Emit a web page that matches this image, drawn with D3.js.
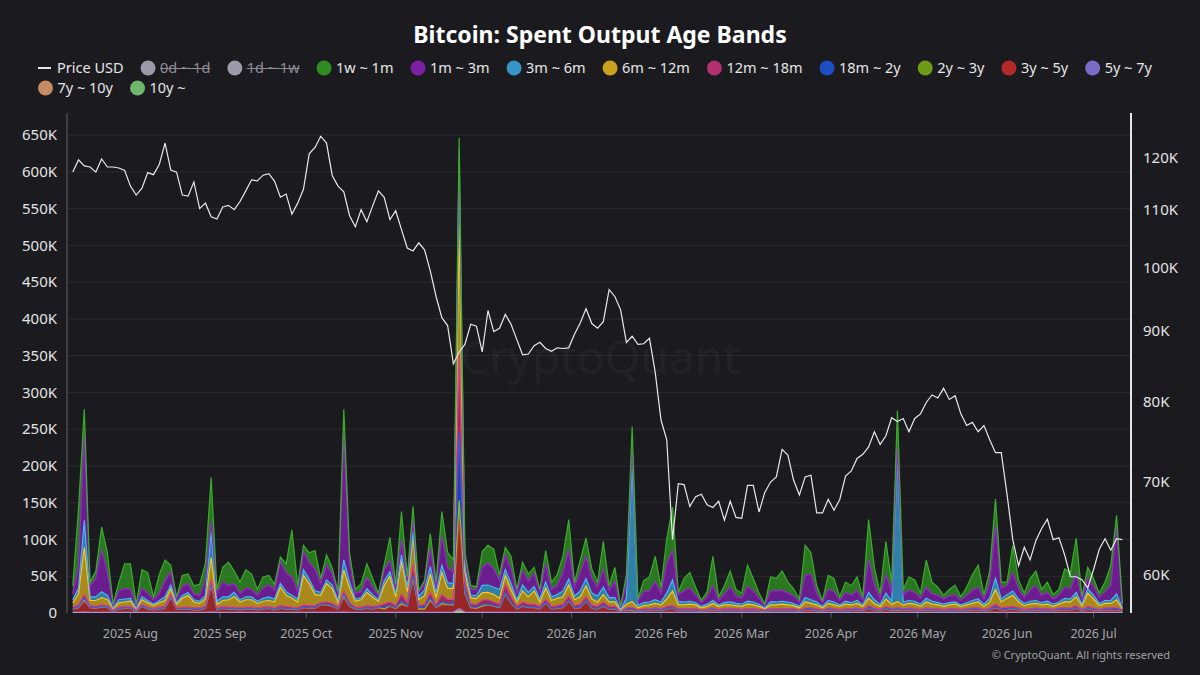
<!DOCTYPE html>
<meta charset="utf-8">
<script src="https://d3js.org/d3.v7.min.js"></script>
<style>
  body { margin: 0; background: #1b1b1f; }
  svg { display: block; font-family: "Noto Sans", "DejaVu Sans", sans-serif; }
</style>
<div id="chart"></div>
<script>

// sampled every second day
var dates = [
  "2025-07-12","2025-07-14","2025-07-16","2025-07-18","2025-07-20","2025-07-22","2025-07-24","2025-07-26","2025-07-28","2025-07-30",
  "2025-08-01","2025-08-03","2025-08-05","2025-08-07","2025-08-09","2025-08-11","2025-08-13","2025-08-15","2025-08-17","2025-08-19",
  "2025-08-21","2025-08-23","2025-08-25","2025-08-27","2025-08-29","2025-08-31","2025-09-02","2025-09-04","2025-09-06","2025-09-08",
  "2025-09-10","2025-09-12","2025-09-14","2025-09-16","2025-09-18","2025-09-20","2025-09-22","2025-09-24","2025-09-26","2025-09-28",
  "2025-09-30","2025-10-02","2025-10-04","2025-10-06","2025-10-08","2025-10-10","2025-10-12","2025-10-14","2025-10-16","2025-10-18",
  "2025-10-20","2025-10-22","2025-10-24","2025-10-26","2025-10-28","2025-10-30","2025-11-01","2025-11-03","2025-11-05","2025-11-07",
  "2025-11-09","2025-11-11","2025-11-13","2025-11-15","2025-11-17","2025-11-19","2025-11-21","2025-11-23","2025-11-25","2025-11-27",
  "2025-11-29","2025-12-01","2025-12-03","2025-12-05","2025-12-07","2025-12-09","2025-12-11","2025-12-13","2025-12-15","2025-12-17",
  "2025-12-19","2025-12-21","2025-12-23","2025-12-25","2025-12-27","2025-12-29","2025-12-31","2026-01-02","2026-01-04","2026-01-06",
  "2026-01-08","2026-01-10","2026-01-12","2026-01-14","2026-01-16","2026-01-18","2026-01-20","2026-01-22","2026-01-24","2026-01-26",
  "2026-01-28","2026-01-30","2026-02-01","2026-02-03","2026-02-05","2026-02-07","2026-02-09","2026-02-11","2026-02-13","2026-02-15",
  "2026-02-17","2026-02-19","2026-02-21","2026-02-23","2026-02-25","2026-02-27","2026-03-01","2026-03-03","2026-03-05","2026-03-07",
  "2026-03-09","2026-03-11","2026-03-13","2026-03-15","2026-03-17","2026-03-19","2026-03-21","2026-03-23","2026-03-25","2026-03-27",
  "2026-03-29","2026-03-31","2026-04-02","2026-04-04","2026-04-06","2026-04-08","2026-04-10","2026-04-12","2026-04-14","2026-04-16",
  "2026-04-18","2026-04-20","2026-04-22","2026-04-24","2026-04-26","2026-04-28","2026-04-30","2026-05-02","2026-05-04","2026-05-06",
  "2026-05-08","2026-05-10","2026-05-12","2026-05-14","2026-05-16","2026-05-18","2026-05-20","2026-05-22","2026-05-24","2026-05-26",
  "2026-05-28","2026-05-30","2026-06-01","2026-06-03","2026-06-05","2026-06-07","2026-06-09","2026-06-11","2026-06-13","2026-06-15",
  "2026-06-17","2026-06-19","2026-06-21","2026-06-23","2026-06-25","2026-06-27","2026-06-29","2026-07-01","2026-07-03","2026-07-05",
  "2026-07-07","2026-07-09","2026-07-11"
];

// BTC price, thousands of USD
var priceUsd = [
  117.2,119.6,118.4,118.2,117.2,119.8,118.2,118.2,118.0,117.5,
  114.5,112.8,114.1,117.1,116.7,118.7,123.0,117.6,117.2,112.8,
  112.6,115.3,110.3,111.3,108.8,108.4,110.6,110.9,110.1,111.6,
  113.6,115.7,115.5,116.6,116.9,115.4,112.4,113.0,109.3,111.3,
  113.9,120.8,122.1,124.4,123.0,116.5,114.5,113.4,109.0,107.0,
  110.1,107.9,110.8,113.6,112.4,108.3,109.9,106.5,103.3,102.8,
  104.2,103.0,99.4,95.3,92.0,90.8,85.2,86.9,88.0,91.0,
  90.7,86.9,93.1,89.9,90.4,92.5,91.0,88.7,86.5,86.6,
  87.8,88.3,87.4,87.0,87.5,87.4,87.5,89.5,91.2,93.4,
  91.1,90.4,91.4,96.4,95.3,93.2,88.3,89.2,88.0,88.1,
  88.9,84.0,77.6,75.1,63.6,69.8,69.7,67.2,68.3,68.6,
  67.4,67.1,67.8,65.7,67.8,66.0,65.9,69.6,69.6,66.6,
  68.8,70.0,70.6,73.9,73.2,70.2,68.5,70.6,70.8,66.5,
  66.5,68.0,66.8,68.0,70.7,71.3,72.8,73.3,74.2,76.1,
  74.5,75.6,77.9,77.4,77.8,76.1,77.8,78.4,79.9,80.9,
  80.5,81.8,80.3,80.8,78.4,76.9,77.3,76.1,76.9,75.1,
  73.5,73.5,68.6,63.6,60.9,62.8,61.5,63.5,64.8,65.8,
  63.6,63.8,62.0,59.8,59.8,59.5,58.7,60.5,62.6,63.7,
  62.5,63.7,63.6
];

// spent outputs per age band, thousands of BTC
var band1w1m = [
  11,78,36,6,10,31,28,2,12,34, 35,2,25,28,4,25,28,9,3,15, 13,11,15,23,59,6,20,32,17,16,
  25,21,8,15,13,8,6,13,64,8, 8,14,25,7,14,8,4,36,14,5, 11,19,12,4,7,32,5,39,5,19,
  2,5,20,7,33,21,18,16,9,5, 4,21,24,27,8,10,17,6,11,10, 8,5,18,10,15,22,41,7,17,25,
  13,7,37,6,19,2,12,28,3,15, 19,34,8,34,59,3,17,21,11,3, 7,40,5,11,22,9,7,29,17,7,
  2,19,17,26,15,10,4,41,29,10, 3,19,18,5,14,13,18,5,54,24, 7,45,14,50,7,18,17,7,37,16,
  11,5,9,13,5,11,21,30,6,17, 36,8,5,37,12,6,16,20,8,14, 6,8,25,22,49,4,14,11,6,13,
  28,17,2
];
var band1m3m = [
  8,30,115,14,25,57,30,3,12,14, 12,3,12,10,6,10,22,18,5,12, 12,8,8,20,15,10,20,15,12,8,
  12,10,8,14,16,12,30,25,25,10, 25,22,30,12,20,15,8,169,25,8, 8,15,10,5,15,15,8,20,10,15,
  6,8,25,8,40,20,15,12,12,8, 8,25,30,25,12,20,20,8,20,15, 18,8,25,10,12,25,40,12,25,30,
  20,12,25,10,22,2,20,25,6,15, 15,25,12,40,40,10,15,18,10,5, 10,20,6,12,20,10,8,20,15,8,
  3,15,15,15,12,10,6,30,35,12, 5,15,14,6,12,10,14,6,45,20, 8,25,12,13,10,14,12,8,15,10,
  10,7,9,10,6,10,14,16,7,20, 72,15,12,25,14,8,15,20,10,12, 7,9,15,14,25,6,15,12,8,12,
  20,90,4
];
var band3m6m = [
  4,8,37,5,5,8,6,1,4,4, 4,1,4,3,2,3,5,5,2,4, 4,3,3,5,35,4,5,4,6,3,
  4,4,3,4,5,4,5,5,4,4, 8,6,5,4,5,5,3,14,8,3, 3,5,4,2,6,6,4,8,5,5,
  4,8,10,6,10,8,6,92,5,4, 4,10,10,10,12,8,8,3,8,6, 6,4,8,5,5,8,8,5,8,10,
  8,8,10,6,6,1,8,185,3,4, 4,5,4,8,15,4,4,4,3,2, 3,4,2,3,4,3,3,4,4,3,
  1,4,4,4,4,3,2,6,5,4, 2,4,4,2,4,3,4,2,8,5, 3,8,4,197,4,4,4,3,5,4,
  3,3,3,3,2,3,4,4,3,5, 15,4,5,6,4,3,4,4,3,4, 3,3,5,4,6,2,6,5,3,4,
  4,8,1
];
var band6m12m = [
  6,15,64,7,8,10,8,2,6,6, 7,2,6,6,4,6,8,8,5,12, 16,8,6,10,30,5,8,10,14,8,
  10,10,6,8,8,8,25,15,12,8, 40,30,15,10,25,20,6,28,20,8, 10,18,12,6,25,35,12,45,15,40,
  8,12,25,10,30,15,15,174,15,8, 8,10,10,10,8,12,10,6,15,10, 18,6,15,8,10,10,15,8,10,15,
  8,6,10,6,6,1,5,8,3,4, 5,6,5,10,20,5,5,6,5,3, 4,6,4,5,5,4,4,6,5,4,
  2,5,5,6,5,4,3,8,6,5, 3,6,5,4,6,5,6,4,10,6, 4,10,6,8,5,6,6,4,8,6,
  5,4,5,6,4,5,6,8,4,8, 20,8,12,15,8,5,6,6,5,6, 4,5,8,8,12,5,18,12,5,6,
  6,10,2
];
var band12m18m = [
  2,3,5,2,2,2,2,1,2,2, 2,1,2,2,1,2,2,3,1,2, 2,2,2,2,5,2,2,2,2,2,
  2,2,2,2,2,2,3,3,2,2, 3,3,3,2,3,3,2,5,4,2, 2,3,3,2,4,5,3,10,4,15,
  3,3,8,3,10,6,6,107,12,4, 4,6,6,5,4,12,8,3,5,4, 4,3,5,3,3,4,6,3,4,5,
  4,3,5,3,3,0,2,3,1,2, 2,2,2,3,3,2,2,2,2,1, 1,2,1,2,2,2,1,2,2,1,
  1,2,2,2,2,2,1,2,2,2, 1,2,2,1,2,2,2,1,3,2, 1,3,2,2,2,2,2,1,2,2,
  2,1,2,2,1,2,2,2,1,2, 4,2,3,3,2,1,2,2,2,2, 1,2,2,2,3,1,3,2,1,2,
  2,3,1
];
var band18m2y = [
  .5,.5,2,.5,.5,.5,.5,.5,.5,.5, .5,.5,.5,.5,.5,.5,.5,.5,.5,.5, .5,.5,.5,.5,2,.5,.5,.5,.5,.5,
  .5,.5,.5,.5,.5,.5,.5,.5,.5,.5, .5,.5,.5,.5,.5,.5,.5,2,.5,.5, .5,.5,.5,.5,3,.5,.5,3,.5,3,
  2,3,2,.5,2,1,1,92,2,1, 1,2,.5,.5,.5,.5,.5,.5,.5,.5, .5,.5,.5,.5,.5,.5,.5,.5,.5,.5,
  .5,.5,.5,.5,.5,.5,.5,1,.5,.5, .5,.5,.5,.5,.5,.5,.5,.5,.5,.5, .5,.5,.5,.5,.5,.5,.5,.5,.5,.5,
  .5,.5,.5,.5,.5,.5,.5,.5,.5,.5, .5,.5,.5,.5,.5,.5,.5,.5,.5,.5, .5,.5,.5,1,.5,.5,.5,.5,.5,.5,
  .5,.5,.5,.5,.5,.5,.5,.5,.5,.5, .5,.5,.5,.5,.5,.5,.5,.5,.5,.5, .5,.5,.5,.5,.5,.5,.5,.5,.5,.5,
  .5,.5,.5
];
var band2y3y = [
  .5,.5,2,.5,.5,.5,.5,.5,.5,.5, .5,.5,.5,.5,.5,.5,.5,.5,.5,.5, .5,.5,.5,.5,2,.5,.5,.5,.5,.5,
  .5,.5,.5,.5,.5,.5,.5,.5,.5,.5, .5,.5,.5,.5,.5,.5,.5,2,.5,.5, .5,.5,.5,.5,.5,.5,.5,2,.5,2,
  .5,.5,2,.5,2,.5,.5,27,1,.5, .5,.5,.5,.5,.5,.5,.5,.5,.5,.5, .5,.5,.5,.5,.5,.5,.5,.5,.5,.5,
  .5,.5,.5,.5,.5,.5,.5,.5,.5,.5, .5,.5,.5,.5,.5,.5,.5,.5,.5,.5, .5,.5,.5,.5,.5,.5,.5,.5,.5,.5,
  .5,.5,.5,.5,.5,.5,.5,.5,.5,.5, .5,.5,.5,.5,.5,.5,.5,.5,.5,.5, .5,.5,.5,.5,.5,.5,.5,.5,.5,.5,
  .5,.5,.5,.5,.5,.5,.5,.5,.5,.5, .5,.5,.5,.5,.5,.5,.5,.5,.5,.5, .5,.5,.5,.5,.5,.5,.5,.5,.5,.5,
  .5,.5,.5
];
var band3y5y = [
  4,6,15,6,5,7,6,1,4,5, 5,1,8,4,3,4,5,20,4,4, 4,3,3,5,35,3,5,4,4,3,
  4,4,3,4,5,3,5,4,4,3, 6,5,5,10,10,8,4,20,8,4, 4,5,4,6,4,8,5,10,8,45,
  4,4,15,6,10,10,10,120,25,6, 5,8,10,8,6,25,12,4,8,6, 6,4,12,4,5,6,15,5,6,15,
  5,4,8,4,4,1,3,2,1,2, 2,3,2,4,5,2,2,2,2,1, 2,3,2,2,2,2,2,2,2,2,
  1,2,2,2,2,2,1,3,3,2, 1,3,2,2,2,2,3,2,5,3, 2,4,2,3,2,3,2,2,3,2,
  2,2,2,2,2,2,3,3,2,3, 6,3,3,4,3,2,2,3,2,2, 2,3,3,3,5,2,4,3,2,3,
  3,3,1
];
var band5y7y = [
  .3,.3,.5,.3,.3,.3,.3,.3,.3,.3, .3,.3,.3,.3,.3,.3,.3,.3,.3,.3, .3,.3,.3,.3,.5,.3,.3,.3,.3,.3,
  .3,.3,.3,.3,.3,.3,.3,.3,.3,.3, .3,.3,.3,.3,.3,.3,.3,.5,.3,.3, .3,.3,.3,.3,.3,.3,.3,.3,.3,.3,
  .3,.3,.3,.3,.3,.3,.3,3,.3,.3, .3,.3,.3,.3,.3,.3,.3,.3,.3,.3, .3,.3,.3,.3,.3,.3,.3,.3,.3,.3,
  .3,.3,.3,.3,.3,.3,.3,.3,.3,.3, .3,.3,.3,.3,.3,.3,.3,.3,.3,.3, .3,.3,.3,.3,.3,.3,.3,.3,.3,.3,
  .3,.3,.3,.3,.3,.3,.3,.3,.3,.3, .3,.3,.3,.3,.3,.3,.3,.3,.3,.3, .3,.3,.3,.3,.3,.3,.3,.3,.3,.3,
  .3,.3,.3,.3,.3,.3,.3,.3,.3,.3, .3,.3,.3,.3,.3,.3,.3,.3,.3,.3, .3,.3,.3,.3,.3,.3,.3,.3,.3,.3,
  .3,.3,.3
];
var band7y10y = [
  .4,.4,.4,.4,.4,.4,.4,.4,.4,.4, .4,.4,.4,.4,.4,.4,.4,.4,.4,.4, .4,.4,.4,.4,.4,.4,.4,.4,.4,.4,
  .4,.4,.4,.4,.4,.4,.4,.4,.4,.4, .4,.4,.4,.4,.4,.4,.4,.4,.4,.4, .4,.4,.4,.4,.4,.4,.4,.4,.4,.4,
  .4,.4,.4,.4,.4,.4,.4,2,.4,.4, .4,.4,.4,.4,.4,.4,.4,.4,.4,.4, .4,.4,.4,.4,.4,.4,.4,.4,.4,.4,
  .4,.4,.4,.4,.4,.4,.4,.4,.4,.4, .4,.4,.4,.4,.4,.4,.4,.4,.4,.4, .4,.4,.4,.4,.4,.4,.4,.4,.4,.4,
  .4,.4,.4,.4,.4,.4,.4,.4,.4,.4, .4,.4,.4,.4,.4,.4,.4,.4,.4,.4, .4,.4,.4,.4,.4,.4,.4,.4,.4,.4,
  .4,.4,.4,.4,.4,.4,.4,.4,.4,.4, .4,.4,.4,.4,.4,.4,.4,.4,.4,.4, .4,.4,.4,.4,.4,.4,.4,.4,.4,.4,
  .4,.4,.4
];
var band10y = [
  .3,.3,.3,.3,.3,.3,.3,.3,.3,.3, .3,.3,.3,.3,.3,.3,.3,.3,.3,.3, .3,.3,.3,.3,.3,.3,.3,.3,.3,.3,
  .3,.3,.3,.3,.3,.3,.3,.3,.3,.3, .3,.3,.3,.3,.3,.3,.3,.3,.3,.3, .3,.3,.3,.3,.3,.3,.3,.3,.3,.3,
  .3,.3,.3,.3,.3,.3,.3,1,.3,.3, .3,.3,.3,.3,.3,.3,.3,.3,.3,.3, .3,.3,.3,.3,.3,.3,.3,.3,.3,.3,
  .3,.3,.3,.3,.3,.3,.3,.3,.3,.3, .3,.3,.3,.3,.3,.3,.3,.3,.3,.3, .3,.3,.3,.3,.3,.3,.3,.3,.3,.3,
  .3,.3,.3,.3,.3,.3,.3,.3,.3,.3, .3,.3,.3,.3,.3,.3,.3,.3,.3,.3, .3,.3,.3,.3,.3,.3,.3,.3,.3,.3,
  .3,.3,.3,.3,.3,.3,.3,.3,.3,.3, .3,.3,.3,.3,.3,.3,.3,.3,.3,.3, .3,.3,.3,.3,.3,.3,.3,.3,.3,.3,
  .3,.3,.3
];

var legendNames = ["Price USD","0d ~ 1d","1d ~ 1w","1w ~ 1m","1m ~ 3m","3m ~ 6m","6m ~ 12m",
  "12m ~ 18m","18m ~ 2y","2y ~ 3y","3y ~ 5y","5y ~ 7y","7y ~ 10y","10y ~"];
var legendColors = ["#e6e6e6","#9c9aa8","#9c9aa8","#2f8c22","#7d1fa5","#3596c6","#c9a21c",
  "#b22f70","#1f4ec2","#6e9c17","#b6292a","#7b6cc9","#c58b62","#72b66d"];
var hiddenBands = ["0d ~ 1d","1d ~ 1w"];

var leftTicks = [0,50,100,150,200,250,300,350,400,450,500,550,600,650];
var rightTicks = [60,70,80,90,100,110,120];
var monthTicks = ["2025-08-01","2025-09-01","2025-10-01","2025-11-01","2025-12-01","2026-01-01",
  "2026-02-01","2026-03-01","2026-04-01","2026-05-01","2026-06-01","2026-07-01"];

// bottom of the stack first
var bands = [
  {name: "10y ~",     values: band10y},
  {name: "7y ~ 10y",  values: band7y10y},
  {name: "5y ~ 7y",   values: band5y7y},
  {name: "3y ~ 5y",   values: band3y5y},
  {name: "2y ~ 3y",   values: band2y3y},
  {name: "18m ~ 2y",  values: band18m2y},
  {name: "12m ~ 18m", values: band12m18m},
  {name: "6m ~ 12m",  values: band6m12m},
  {name: "3m ~ 6m",   values: band3m6m},
  {name: "1m ~ 3m",   values: band1m3m},
  {name: "1w ~ 1m",   values: band1w1m}
];

var W = 1200, H = 675;
var plot = {left: 67, right: 1131, top: 113, bottom: 613};

var svg = d3.select("#chart").append("svg")
    .attr("width", W).attr("height", H);

svg.append("rect").attr("width", W).attr("height", H).attr("fill", "#1b1b1f");

var parseDay = d3.timeParse("%Y-%m-%d");
var colorOf = d3.scaleOrdinal().domain(legendNames).range(legendColors);

var rows = dates.map(function(d, i) {
  var r = {date: parseDay(d), price: priceUsd[i]};
  bands.forEach(function(b) { r[b.name] = b.values[i]; });
  return r;
});

var x = d3.scaleTime()
    .domain([parseDay("2025-07-10"), parseDay("2026-07-14")])
    .range([plot.left, plot.right]);
var y = d3.scaleLinear().domain([0, 680]).range([plot.bottom, plot.top]);
var yPrice = d3.scaleLog().domain([56.3, 129.3]).range([plot.bottom, plot.top]);

// gridlines
svg.append("g").selectAll("line")
  .data(leftTicks.slice(1))
  .enter().append("line")
    .attr("x1", plot.left).attr("x2", plot.right)
    .attr("y1", function(d) { return y(d); })
    .attr("y2", function(d) { return y(d); })
    .attr("stroke", "#2b2b31").attr("stroke-width", 1);

// watermark
svg.append("text")
    .attr("x", 600).attr("y", 374)
    .attr("text-anchor", "middle")
    .attr("font-size", 46)
    .attr("fill", "#ffffff").attr("fill-opacity", 0.05)
    .text("CryptoQuant");

svg.append("clipPath").attr("id", "plotClip")
  .append("rect")
    .attr("x", plot.left).attr("y", plot.top - 2)
    .attr("width", plot.right - plot.left).attr("height", plot.bottom - plot.top + 2);

var stacked = d3.stack().keys(bands.map(function(b) { return b.name; }))(rows);

var area = d3.area()
    .x(function(d) { return x(d.data.date); })
    .y0(function(d) { return y(d[0]); })
    .y1(function(d) { return y(d[1]); });
var topLine = d3.line()
    .x(function(d) { return x(d.data.date); })
    .y(function(d) { return y(d[1]); });

var layers = svg.append("g").attr("clip-path", "url(#plotClip)");

layers.selectAll(".band")
  .data(stacked)
  .enter().append("path")
    .attr("class", "band")
    .attr("d", area)
    .attr("fill", function(d) { return colorOf(d.key); })
    .attr("fill-opacity", 0.82);

layers.selectAll(".bandEdge")
  .data(stacked)
  .enter().append("path")
    .attr("class", "bandEdge")
    .attr("d", topLine)
    .attr("fill", "none")
    .attr("stroke", function(d) { return d3.color(colorOf(d.key)).brighter(0.6); })
    .attr("stroke-width", 1.2);

// price line
layers.append("path")
    .datum(rows)
    .attr("fill", "none")
    .attr("stroke", "#e8e8e8")
    .attr("stroke-width", 1.2)
    .attr("d", d3.line()
        .x(function(d) { return x(d.date); })
        .y(function(d) { return yPrice(d.price); }));

// left axis
svg.append("line")
    .attr("x1", plot.left).attr("x2", plot.left)
    .attr("y1", plot.top).attr("y2", plot.bottom)
    .attr("stroke", "#4a4a52").attr("stroke-width", 1.5);
svg.append("g").selectAll("text")
  .data(leftTicks)
  .enter().append("text")
    .attr("x", 57)
    .attr("y", function(d) { return y(d); })
    .attr("dy", "0.35em")
    .attr("text-anchor", "end")
    .attr("font-size", 15)
    .attr("fill", "#e2e2e2")
    .text(function(d) { return d === 0 ? "0" : d + "K"; });

// right axis
svg.append("line")
    .attr("x1", plot.right).attr("x2", plot.right)
    .attr("y1", plot.top).attr("y2", plot.bottom)
    .attr("stroke", "#e6e6e6").attr("stroke-width", 2);
svg.append("g").selectAll("text")
  .data(rightTicks)
  .enter().append("text")
    .attr("x", 1143)
    .attr("y", function(d) { return yPrice(d); })
    .attr("dy", "0.35em")
    .attr("font-size", 15)
    .attr("fill", "#e2e2e2")
    .text(function(d) { return d + "K"; });

// x axis
var fmtMonth = d3.timeFormat("%Y %b");
var xAxis = svg.append("g");
xAxis.selectAll("line")
  .data(monthTicks)
  .enter().append("line")
    .attr("x1", function(d) { return x(parseDay(d)); })
    .attr("x2", function(d) { return x(parseDay(d)); })
    .attr("y1", plot.bottom).attr("y2", plot.bottom + 5)
    .attr("stroke", "#55555c");
xAxis.selectAll("text")
  .data(monthTicks)
  .enter().append("text")
    .attr("x", function(d) { return x(parseDay(d)); })
    .attr("y", 638)
    .attr("text-anchor", "middle")
    .attr("font-size", 12.5)
    .attr("fill", "#a6a6aa")
    .text(function(d) { return fmtMonth(parseDay(d)); });

// title
svg.append("text")
    .attr("x", 600).attr("y", 43)
    .attr("text-anchor", "middle")
    .attr("font-size", 23)
    .attr("font-weight", "bold")
    .attr("fill", "#ffffff")
    .text("Bitcoin: Spent Output Age Bands");

// legend
var legend = svg.append("g");
var lx = 38, ly = 68;
legendNames.forEach(function(name, i) {
  if (name === "7y ~ 10y") { lx = 38; ly = 88; }
  var off = hiddenBands.indexOf(name) >= 0;
  var item = legend.append("g");
  var tx;
  if (i === 0) {
    item.append("line")
        .attr("x1", lx).attr("x2", lx + 13)
        .attr("y1", ly).attr("y2", ly)
        .attr("stroke", colorOf(name)).attr("stroke-width", 2);
    tx = lx + 19;
  } else {
    item.append("circle")
        .attr("cx", lx + 7.5).attr("cy", ly).attr("r", 7.5)
        .attr("fill", colorOf(name));
    tx = lx + 19.5;
  }
  var t = item.append("text")
      .attr("x", tx).attr("y", ly)
      .attr("dy", "0.35em")
      .attr("font-size", 14.5)
      .attr("fill", off ? "#8d8b96" : "#e6e6e6")
      .text(name);
  var w = t.node().getComputedTextLength();
  if (off) {
    item.append("line")
        .attr("x1", tx).attr("x2", tx + w)
        .attr("y1", ly + 0.5).attr("y2", ly + 0.5)
        .attr("stroke", "#8d8b96").attr("stroke-width", 1.2);
  }
  lx = tx + w + 17;
});

// footer
svg.append("text")
    .attr("x", 1170).attr("y", 659)
    .attr("text-anchor", "end")
    .attr("font-size", 11)
    .attr("fill", "#a0a0a4")
    .text("\u00a9 CryptoQuant. All rights reserved");

</script>
